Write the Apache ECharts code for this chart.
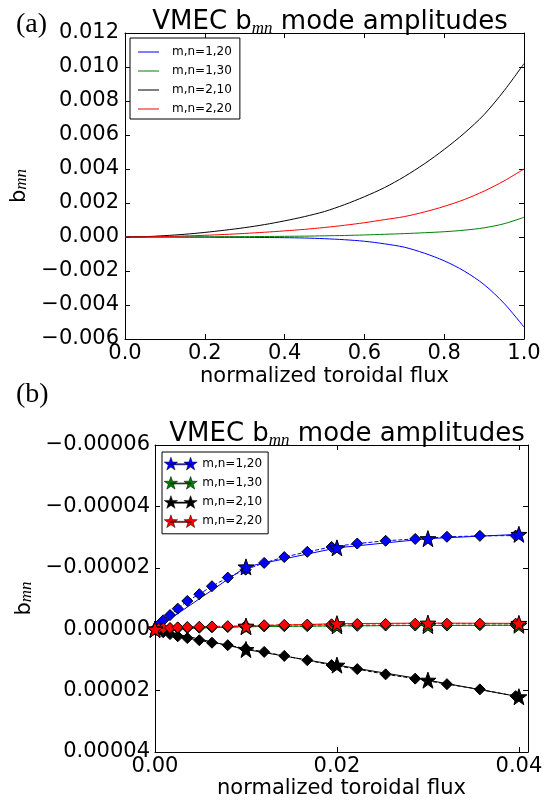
<!DOCTYPE html>
<html>
<head>
<meta charset="utf-8">
<script src="https://cdn.jsdelivr.net/npm/echarts@6/dist/echarts.min.js"></script>
<style>
html, body { margin: 0; padding: 0; background: #fff; }
#chart { width: 553px; height: 800px; }
</style>
</head>
<body>
<div id="chart"></div>
<script>
// (a) whole radius
var modeNames = ["m,n=1,20", "m,n=1,30", "m,n=2,10", "m,n=2,20"];
var modeColors = ["#0000ff", "#008000", "#000000", "#ff0000"];

var fluxA = [0, 0.05, 0.1, 0.15, 0.2, 0.25, 0.3, 0.35, 0.4, 0.45, 0.5,
             0.55, 0.6, 0.65, 0.7, 0.75, 0.8, 0.85, 0.9, 0.95, 1.0];
var b120A = [0, 0, 0, -0.00001, -0.00001, -0.00002, -0.00002, -0.00003, -0.00004, -0.00006, -0.0001,
             -0.00016, -0.00025, -0.0004, -0.0006, -0.00095, -0.0014, -0.002, -0.0028, -0.0039, -0.0053];
var b130A = [0, 0, 0, 0.00001, 0.00001, 0.00002, 0.00002, 0.00003, 0.00004, 0.00005, 0.00007,
             0.00009, 0.00012, 0.00016, 0.0002, 0.00025, 0.00031, 0.0004, 0.00054, 0.00078, 0.00116];
var b210A = [0, 0.00002, 0.00008, 0.00016, 0.00027, 0.0004, 0.00055, 0.00073, 0.00095, 0.0012, 0.0015,
             0.0019, 0.00237, 0.0029, 0.00355, 0.0043, 0.00515, 0.0061, 0.0072, 0.0086, 0.0102];
var b220A = [0, 0.00001, 0.00003, 0.00006, 0.0001, 0.00015, 0.00021, 0.00028, 0.00036, 0.00045, 0.00056,
             0.00069, 0.00084, 0.00102, 0.0012, 0.00147, 0.0018, 0.0022, 0.0027, 0.0033, 0.004];

// (b) near the axis: diamonds on the fine grid, stars every 0.01
var fluxB = [0.0001, 0.0004, 0.0009, 0.00165, 0.0025, 0.00355, 0.00487, 0.00626, 0.008, 0.00996,
             0.012, 0.01421, 0.01674, 0.01941, 0.02223, 0.02535, 0.0286, 0.03209, 0.03571, 0.03964];
var b120B = [-0.4e-6, -1.4e-6, -2.9e-6, -4.6e-6, -6.7e-6, -9.2e-6, -11.4e-6, -14.0e-6, -16.8e-6, -19.4e-6,
             -21.6e-6, -23.5e-6, -25.2e-6, -26.8e-6, -27.9e-6, -28.8e-6, -29.4e-6, -30.1e-6, -30.4e-6, -30.5e-6];
var b130B = [0, -0.05e-6, -0.1e-6, -0.2e-6, -0.3e-6, -0.4e-6, -0.5e-6, -0.6e-6, -0.7e-6, -0.8e-6,
             -0.9e-6, -1.0e-6, -1.0e-6, -1.1e-6, -1.1e-6, -1.2e-6, -1.2e-6, -1.2e-6, -1.3e-6, -1.3e-6];
var b210B = [0.2e-6, 0.5e-6, 1.0e-6, 1.6e-6, 2.3e-6, 2.9e-6, 3.6e-6, 4.4e-6, 5.2e-6, 6.3e-6,
             7.4e-6, 8.7e-6, 10.1e-6, 11.7e-6, 13.0e-6, 14.7e-6, 16.1e-6, 17.9e-6, 19.6e-6, 21.8e-6];
var b220B = [-0.1e-6, -0.2e-6, -0.3e-6, -0.4e-6, -0.6e-6, -0.7e-6, -0.8e-6, -0.9e-6, -1.0e-6, -1.1e-6,
             -1.3e-6, -1.4e-6, -1.5e-6, -1.6e-6, -1.7e-6, -1.7e-6, -1.8e-6, -1.8e-6, -1.8e-6, -1.8e-6];

var starFlux = [0, 0.01, 0.02, 0.03, 0.04];
var b120Star = [0, -20.3e-6, -26.5e-6, -29.5e-6, -30.9e-6];
var b130Star = [0, -0.8e-6, -1.1e-6, -1.2e-6, -1.3e-6];
var b210Star = [0, 6.6e-6, 11.7e-6, 16.6e-6, 22.0e-6];
var b220Star = [0, -1.0e-6, -1.8e-6, -2.0e-6, -1.9e-6];

var FONT = "DejaVu Sans";
var STAR = "M7.5 0.5L9.26 5.57L14.63 5.68L10.35 8.93L11.91 14.07L7.5 11L3.09 14.07L4.65 8.93L0.37 5.68L5.74 5.57Z";
// two stars joined by a line, like the matplotlib legend handle
var STAR_PAIR = "path://M7 7.4L29 7.4L29 8.6L7 8.6Z " + STAR +
    " M28.5 0.5L30.26 5.57L35.63 5.68L31.35 8.93L32.91 14.07L28.5 11L24.09 14.07L25.65 8.93L21.37 5.68L26.74 5.57Z";
// short line with empty room after it (the hairline keeps the box 12px tall)
var LINE_HANDLE = "path://M0 5.5H21V6.5H0Z M29 0H29.01V12H29Z";

function pairs(xs, ys) {
    return xs.map(function (x, i) { return [x, ys[i]]; });
}
function fixed(digits) {
    return function (v) {
        if (Math.abs(v) < 1e-12) return (0).toFixed(digits);
        return (v < 0 ? "\u2212" : "") + Math.abs(v).toFixed(digits);
    };
}
var subRich = {
    s: { fontSize: 17, fontStyle: "italic", fontFamily: "Liberation Serif", verticalAlign: "bottom", lineHeight: 16, color: "#000" }
};

function frameAxis(gridIndex, position, min, max, interval, extra) {
    var ax = {
        gridIndex: gridIndex,
        type: "value",
        position: position,
        min: min,
        max: max,
        interval: interval,
        axisLine: { onZero: false, lineStyle: { color: "#000", width: 1 } },
        axisTick: { inside: true, length: 5, lineStyle: { color: "#000" } },
        axisLabel: { show: false },
        splitLine: { show: false }
    };
    for (var k in extra) ax[k] = extra[k];
    return ax;
}

var chart = echarts.init(document.getElementById("chart"));

var seriesA = [b120A, b130A, b210A, b220A].map(function (vals, i) {
    return {
        type: "line",
        name: modeNames[i],
        xAxisIndex: 0,
        yAxisIndex: 0,
        data: pairs(fluxA, vals),
        smooth: 0.3,
        symbol: "none",
        lineStyle: { color: modeColors[i], width: 1 },
        itemStyle: { color: modeColors[i] }
    };
});

var diamondsB = [b120B, b130B, b210B, b220B].map(function (vals, i) {
    return {
        type: "line",
        name: modeNames[i] + " fine",
        xAxisIndex: 2,
        yAxisIndex: 2,
        data: pairs(fluxB, vals),
        symbol: "diamond",
        symbolSize: 11,
        showAllSymbol: true,
        lineStyle: { color: modeColors[i], width: 1, type: "dashed" },
        itemStyle: { color: modeColors[i], borderColor: "#000", borderWidth: 1 }
    };
});

var starsB = [b120Star, b130Star, b210Star, b220Star].map(function (vals, i) {
    return {
        type: "line",
        name: modeNames[i] + " (b)",
        xAxisIndex: 2,
        yAxisIndex: 2,
        data: pairs(starFlux, vals),
        symbol: "path://" + STAR,
        symbolSize: 16,
        showAllSymbol: true,
        lineStyle: { color: modeColors[i], width: 1 },
        itemStyle: { color: modeColors[i], borderColor: "#000", borderWidth: 1 }
    };
});

var labelStyle = { fontFamily: FONT, fontSize: 21, color: "#000" };

chart.setOption({
    animation: false,
    backgroundColor: "#fff",
    textStyle: { fontFamily: FONT },
    title: [
        {
            text: "VMEC b{s|mn} mode amplitudes",
            left: 325,
            top: 2,
            textAlign: "center",
            textStyle: { fontFamily: FONT, fontSize: 26, fontWeight: "normal", color: "#000", lineHeight: 30, rich: subRich }
        },
        {
            text: "VMEC b{s|mn} mode amplitudes",
            left: 342,
            top: 414,
            textAlign: "center",
            textStyle: { fontFamily: FONT, fontSize: 26, fontWeight: "normal", color: "#000", lineHeight: 30, rich: subRich }
        }
    ],
    graphic: [
        { type: "text", left: 16, top: 11, style: { text: "(a)", fontFamily: "Liberation Serif", fontSize: 28, fill: "#000" } },
        { type: "text", left: 16, top: 381, style: { text: "(b)", fontFamily: "Liberation Serif", fontSize: 28, fill: "#000" } }
    ],
    legend: [
        {
            data: modeNames.map(function (n) { return { name: n, icon: LINE_HANDLE }; }),
            orient: "vertical",
            left: 130,
            top: 38,
            padding: [8, 8, 4, 8],
            itemWidth: 29,
            itemHeight: 12,
            itemGap: 7,
            borderColor: "#000",
            borderWidth: 1,
            backgroundColor: "#fff",
            textStyle: { fontFamily: FONT, fontSize: 12, color: "#000" }
        },
        {
            data: modeNames.map(function (n) { return { name: n + " (b)", icon: STAR_PAIR }; }),
            orient: "vertical",
            left: 162,
            top: 452,
            padding: [5, 6, 6, 2],
            itemWidth: 33,
            itemHeight: 13,
            itemGap: 6,
            borderColor: "#000",
            borderWidth: 1,
            backgroundColor: "#fff",
            itemStyle: { borderWidth: 0.5 },
            formatter: function (name) { return name.replace(" (b)", ""); },
            textStyle: { fontFamily: FONT, fontSize: 12, color: "#000" }
        }
    ],
    grid: [
        { left: 125, top: 33, width: 399, height: 306 },
        { left: 155, top: 445, width: 373, height: 307 }
    ],
    xAxis: [
        frameAxis(0, "bottom", 0, 1, 0.2, {
            name: "normalized toroidal flux",
            nameLocation: "middle",
            nameGap: 27,
            nameTextStyle: labelStyle,
            axisLabel: { show: true, margin: 4, fontFamily: FONT, fontSize: 21, color: "#000", formatter: fixed(1) }
        }),
        frameAxis(0, "top", 0, 1, 0.2, {}),
        frameAxis(1, "bottom", 0, 0.041, 0.02, {
            name: "normalized toroidal flux",
            nameLocation: "middle",
            nameGap: 26,
            nameTextStyle: labelStyle,
            axisLabel: { show: true, margin: 4, showMaxLabel: false, fontFamily: FONT, fontSize: 21, color: "#000", formatter: fixed(2) }
        }),
        frameAxis(1, "top", 0, 0.041, 0.02, {})
    ],
    yAxis: [
        frameAxis(0, "left", -0.006, 0.012, 0.002, {
            name: "b{s|mn}",
            nameLocation: "middle",
            nameRotate: 90,
            nameGap: 84,
            nameTextStyle: { fontFamily: FONT, fontSize: 21, color: "#000", rich: subRich },
            axisLabel: { show: true, margin: 6, fontFamily: FONT, fontSize: 21, color: "#000", formatter: fixed(3) }
        }),
        frameAxis(0, "right", -0.006, 0.012, 0.002, {}),
        frameAxis(1, "left", -0.00006, 0.00004, 0.00002, {
            inverse: true,
            name: "b{s|mn}",
            nameLocation: "middle",
            nameRotate: 90,
            nameGap: 116,
            nameTextStyle: { fontFamily: FONT, fontSize: 21, color: "#000", rich: subRich },
            axisLabel: { show: true, margin: 5, fontFamily: FONT, fontSize: 21, color: "#000", formatter: fixed(5) }
        }),
        frameAxis(1, "right", -0.00006, 0.00004, 0.00002, { inverse: true })
    ],
    series: seriesA.concat(diamondsB, starsB)
});
</script>
</body>
</html>
